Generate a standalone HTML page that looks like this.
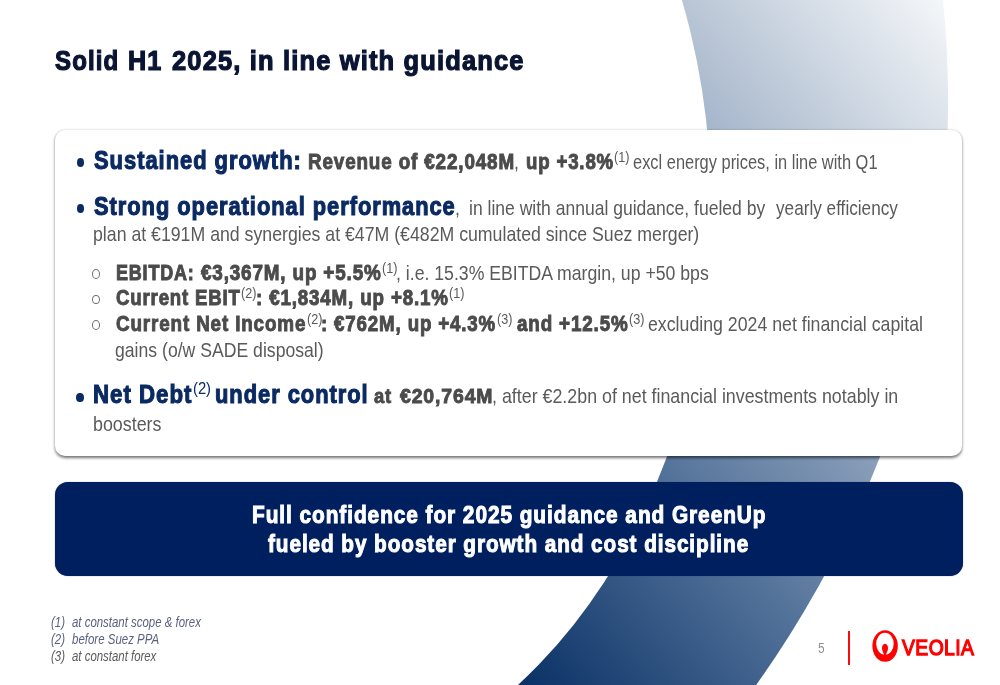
<!DOCTYPE html>
<html lang="en">
<head>
<meta charset="utf-8">
<title>Solid H1 2025, in line with guidance</title>
<style>
html,body{margin:0;padding:0;background:#fff;}
body{width:1000px;height:685px;position:relative;overflow:hidden;font-family:"Liberation Sans",Arial,sans-serif;}
#bg{position:absolute;left:0;top:0;width:1000px;height:685px;}
.card{position:absolute;left:54.8px;top:129.8px;width:907.6px;height:326.4px;background:#fff;border-radius:10px;
  box-shadow:0 1.4px 3px rgba(0,0,0,.55);}
.banner{position:absolute;left:54.7px;top:482.1px;width:908.3px;height:94.2px;background:#001f5f;border-radius:13px;
  box-shadow:0 0 1px rgba(60,60,80,.8);}
.g{margin:0;padding:0;font-size:0;line-height:0;height:0;}
.t{position:absolute;white-space:pre;line-height:1;transform-origin:0 0;display:block;}
.dot{position:absolute;width:7.8px;height:9.5px;border-radius:50%;background:#0b2a63;}
.ring{position:absolute;width:6.1px;height:7.7px;border-radius:50%;border:0.9px solid #707070;}
.vline{position:absolute;left:848.4px;top:630.6px;width:1.7px;height:34.2px;background:#ff0a0a;}
#logo{position:absolute;left:868px;top:626px;width:36px;height:40px;}
</style>
</head>
<body>
<svg id="bg" viewBox="0 0 1000 685">
  <defs>
    <linearGradient id="g" gradientUnits="userSpaceOnUse" x1="520" y1="685" x2="1107" y2="183">
      <stop offset="0" stop-color="#0a3166"/>
      <stop offset="0.3" stop-color="#4e6e96"/>
      <stop offset="0.65" stop-color="#a5b5ca"/>
      <stop offset="1" stop-color="#f6f8fa"/>
    </linearGradient>
    <mask id="m" maskUnits="userSpaceOnUse" x="0" y="0" width="1000" height="685">
      <rect x="0" y="0" width="1000" height="685" fill="#fff"/>
      <ellipse cx="240.75" cy="205.67" rx="470.3" ry="593.4" fill="#000"/>
    </mask>
  </defs>
  <ellipse cx="-396.15" cy="99.37" rx="1344.26" ry="1137.2" fill="url(#g)" mask="url(#m)"/>
</svg>

<div class="card"></div>
<div class="banner"></div>

<div class="dot" style="left:76.5px;top:157.8px"></div>
<div class="dot" style="left:76.5px;top:203.5px"></div>
<div class="dot" style="left:76.4px;top:392.9px"></div>
<div class="ring" style="left:92.1px;top:269.1px"></div>
<div class="ring" style="left:92.1px;top:294.6px"></div>
<div class="ring" style="left:92.1px;top:320.4px"></div>

<h1 class="g title">
  <span class="t" style="left:55.12px;top:47.00px;font-size:27.78px;color:#0a1433;transform:scaleX(0.8666);font-weight:700;-webkit-text-stroke:1.19px #0a1433;letter-spacing:1.25px;">Solid</span>
  <span class="t" style="left:127.55px;top:47.00px;font-size:27.78px;color:#0a1433;transform:scaleX(0.9065);font-weight:700;-webkit-text-stroke:1.19px #0a1433;letter-spacing:1.25px;">H1</span>
  <span class="t" style="left:171.86px;top:47.00px;font-size:27.78px;color:#0a1433;transform:scaleX(0.9183);font-weight:700;-webkit-text-stroke:1.19px #0a1433;letter-spacing:1.25px;">2025, in line with guidance</span>
</h1>
<div class="g bullet b1">
  <span class="t" style="left:93.54px;top:148.00px;font-size:25.0px;color:#0b2a63;transform:scaleX(0.8764);font-weight:700;-webkit-text-stroke:1.07px #0b2a63;letter-spacing:1.12px;">Sustained growth:</span>
  <span class="t" style="left:307.55px;top:152.00px;font-size:21.3px;color:#4b4b4b;transform:scaleX(0.8857);font-weight:700;-webkit-text-stroke:0.92px #4b4b4b;letter-spacing:0.96px;">Revenue of €22,048M</span>
  <span class="t" style="left:514.02px;top:152.00px;font-size:20.83px;color:#5a5a5a;transform:scaleX(0.8450);font-weight:400;">,</span>
  <span class="t" style="left:525.75px;top:152.00px;font-size:21.3px;color:#4b4b4b;transform:scaleX(0.8746);font-weight:700;-webkit-text-stroke:0.92px #4b4b4b;letter-spacing:0.96px;">up +3.8%</span>
  <span class="t" style="left:614.21px;top:149.00px;font-size:15.0px;color:#5a5a5a;transform:scaleX(0.8450);font-weight:400;">(1)</span>
  <span class="t" style="left:632.70px;top:152.00px;font-size:20.83px;color:#5a5a5a;transform:scaleX(0.7881);font-weight:400;">excl energy prices, in line with Q1</span>
</div>
<div class="g bullet b2">
  <span class="t" style="left:93.84px;top:194.00px;font-size:25.0px;color:#0b2a63;transform:scaleX(0.8733);font-weight:700;-webkit-text-stroke:1.07px #0b2a63;letter-spacing:1.12px;">Strong operational performance</span>
  <span class="t" style="left:455.42px;top:198.00px;font-size:20.83px;color:#5a5a5a;transform:scaleX(0.8450);font-weight:400;">,</span>
  <span class="t" style="left:468.83px;top:198.00px;font-size:20.83px;color:#5a5a5a;transform:scaleX(0.8415);font-weight:400;">in line with annual guidance, fueled by</span>
  <span class="t" style="left:775.56px;top:198.00px;font-size:20.83px;color:#5a5a5a;transform:scaleX(0.8247);font-weight:400;">yearly efficiency</span>
  <span class="t" style="left:92.86px;top:224.00px;font-size:20.83px;color:#5a5a5a;transform:scaleX(0.8501);font-weight:400;">plan at €191M and synergies at €47M (€482M cumulated since Suez merger)</span>
</div>
<div class="g sub sa">
  <span class="t" style="left:116.19px;top:263.00px;font-size:21.3px;color:#4b4b4b;transform:scaleX(0.8440);font-weight:700;-webkit-text-stroke:0.92px #4b4b4b;letter-spacing:0.96px;">EBITDA:</span>
  <span class="t" style="left:201.12px;top:263.00px;font-size:21.3px;color:#4b4b4b;transform:scaleX(0.8856);font-weight:700;-webkit-text-stroke:0.92px #4b4b4b;letter-spacing:0.96px;">€3,367M, up +5.5%</span>
  <span class="t" style="left:381.71px;top:260.00px;font-size:15.0px;color:#5a5a5a;transform:scaleX(0.8450);font-weight:400;">(1)</span>
  <span class="t" style="left:395.91px;top:263.00px;font-size:20.83px;color:#5a5a5a;transform:scaleX(0.8482);font-weight:400;">, i.e. 15.3% EBITDA margin, up +50 bps</span>
</div>
<div class="g sub sb">
  <span class="t" style="left:115.84px;top:288.00px;font-size:21.3px;color:#4b4b4b;transform:scaleX(0.8736);font-weight:700;-webkit-text-stroke:0.92px #4b4b4b;letter-spacing:0.96px;">Current EBIT</span>
  <span class="t" style="left:241.21px;top:285.00px;font-size:15.0px;color:#5a5a5a;transform:scaleX(0.8450);font-weight:400;">(2)</span>
  <span class="t" style="left:255.60px;top:288.00px;font-size:21.3px;color:#4b4b4b;transform:scaleX(0.8810);font-weight:700;-webkit-text-stroke:0.92px #4b4b4b;letter-spacing:0.96px;">: €1,834M, up +8.1%</span>
  <span class="t" style="left:448.71px;top:285.00px;font-size:15.0px;color:#5a5a5a;transform:scaleX(0.8450);font-weight:400;">(1)</span>
</div>
<div class="g sub sc">
  <span class="t" style="left:115.83px;top:314.00px;font-size:21.3px;color:#4b4b4b;transform:scaleX(0.8853);font-weight:700;-webkit-text-stroke:0.92px #4b4b4b;letter-spacing:0.96px;">Current Net Income</span>
  <span class="t" style="left:306.71px;top:311.00px;font-size:15.0px;color:#5a5a5a;transform:scaleX(0.8450);font-weight:400;">(2)</span>
  <span class="t" style="left:320.90px;top:314.00px;font-size:21.3px;color:#4b4b4b;transform:scaleX(0.8787);font-weight:700;-webkit-text-stroke:0.92px #4b4b4b;letter-spacing:0.96px;">: €762M, up +4.3%</span>
  <span class="t" style="left:496.71px;top:311.00px;font-size:15.0px;color:#5a5a5a;transform:scaleX(0.8450);font-weight:400;">(3)</span>
  <span class="t" style="left:517.35px;top:314.00px;font-size:21.3px;color:#4b4b4b;transform:scaleX(0.8842);font-weight:700;-webkit-text-stroke:0.92px #4b4b4b;letter-spacing:0.96px;">and +12.5%</span>
  <span class="t" style="left:629.21px;top:311.00px;font-size:15.0px;color:#5a5a5a;transform:scaleX(0.8450);font-weight:400;">(3)</span>
  <span class="t" style="left:648.25px;top:314.00px;font-size:20.83px;color:#5a5a5a;transform:scaleX(0.8510);font-weight:400;">excluding 2024 net financial capital</span>
  <span class="t" style="left:115.46px;top:340.00px;font-size:20.83px;color:#5a5a5a;transform:scaleX(0.8461);font-weight:400;">gains (o/w SADE disposal)</span>
</div>
<div class="g bullet b3">
  <span class="t" style="left:93.19px;top:382.00px;font-size:25.0px;color:#0b2a63;transform:scaleX(0.8896);font-weight:700;-webkit-text-stroke:1.07px #0b2a63;letter-spacing:1.12px;">Net Debt</span>
  <span class="t" style="left:192.88px;top:380.00px;font-size:17.2px;color:#0b2a63;transform:scaleX(0.8584);font-weight:400;">(2)</span>
  <span class="t" style="left:214.61px;top:382.00px;font-size:25.0px;color:#0b2a63;transform:scaleX(0.8746);font-weight:700;-webkit-text-stroke:1.07px #0b2a63;letter-spacing:1.12px;">under control</span>
  <span class="t" style="left:374.06px;top:386.00px;font-size:20.3px;color:#4b4b4b;transform:scaleX(0.9067);font-weight:700;-webkit-text-stroke:0.87px #4b4b4b;letter-spacing:0.91px;">at</span>
  <span class="t" style="left:400.32px;top:386.00px;font-size:20.3px;color:#4b4b4b;transform:scaleX(0.9584);font-weight:700;-webkit-text-stroke:0.87px #4b4b4b;letter-spacing:0.91px;">€20,764M</span>
  <span class="t" style="left:491.90px;top:386.00px;font-size:20.83px;color:#5a5a5a;transform:scaleX(0.8558);font-weight:400;">, after €2.2bn of net financial investments notably in</span>
  <span class="t" style="left:92.65px;top:414.00px;font-size:20.83px;color:#5a5a5a;transform:scaleX(0.8574);font-weight:400;">boosters</span>
</div>
<p class="g banner-text">
  <span class="t" style="left:251.55px;top:503.00px;font-size:24.0px;color:#ffffff;transform:scaleX(0.8680);font-weight:700;-webkit-text-stroke:1.03px #ffffff;letter-spacing:1.08px;">Full confidence for 2025 guidance and GreenUp</span>
  <span class="t" style="left:268.09px;top:532.00px;font-size:24.0px;color:#ffffff;transform:scaleX(0.8639);font-weight:700;-webkit-text-stroke:1.03px #ffffff;letter-spacing:1.08px;">fueled by booster growth and cost discipline</span>
</p>
<div class="g footnotes">
  <span class="t" style="left:51.26px;top:616.00px;font-size:13.9px;color:#5b6180;transform:scaleX(0.8260);font-weight:400;font-style:italic;">(1)</span>
  <span class="t" style="left:71.74px;top:616.00px;font-size:13.9px;color:#5b6180;transform:scaleX(0.8225);font-weight:400;font-style:italic;">at constant scope &amp; forex</span>
  <span class="t" style="left:51.26px;top:633.00px;font-size:13.9px;color:#5b6180;transform:scaleX(0.8260);font-weight:400;font-style:italic;">(2)</span>
  <span class="t" style="left:71.84px;top:633.00px;font-size:13.9px;color:#5b6180;transform:scaleX(0.8261);font-weight:400;font-style:italic;">before Suez PPA</span>
  <span class="t" style="left:51.26px;top:650.00px;font-size:13.9px;color:#5a5a5a;transform:scaleX(0.8260);font-weight:400;font-style:italic;">(3)</span>
  <span class="t" style="left:71.74px;top:650.00px;font-size:13.9px;color:#5a5a5a;transform:scaleX(0.8211);font-weight:400;font-style:italic;">at constant forex</span>
</div>
<div class="g pagenum">
  <span class="t" style="left:818.03px;top:641.00px;font-size:14.8px;color:#8f8f8f;transform:scaleX(0.7983);font-weight:400;">5</span>
</div>
<div class="g logo-text">
  <span class="t" style="left:901.99px;top:637.00px;font-size:21.8px;color:#ff0000;transform:scaleX(0.8858);font-weight:400;-webkit-text-stroke:1.3px #ff0000;letter-spacing:0.5px;">VEOLIA</span>
</div>

<div class="vline"></div>
<svg id="logo" viewBox="868 626 36 40">
  <path fill="#ff0000" fill-rule="evenodd" d="M885.1 630.2 A12.7 15.8 0 1 0 885.1 661.8 A12.7 15.8 0 1 0 885.1 630.2 Z M884.95 632.7 A8.75 11 0 1 1 884.95 654.7 A8.75 11 0 1 1 884.95 632.7 Z"/>
  <path fill="#ff0000" d="M885 643.8 C887 643.8 888 646 888 648.3 C888 651 886.3 653.4 885.7 655.2 L884.3 655.2 C883.7 653.4 882 651 882 648.3 C882 646 883 643.8 885 643.8 Z"/>
</svg>
</body>
</html>
